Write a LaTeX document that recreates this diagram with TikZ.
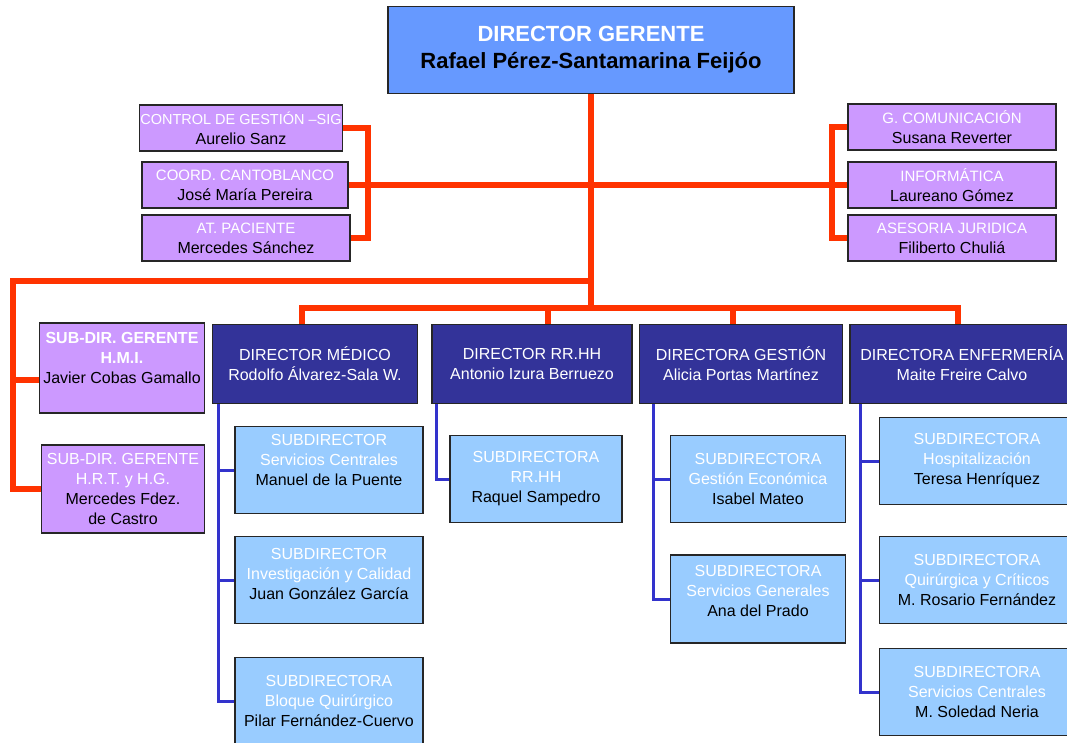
\documentclass[tikz,border=0pt]{standalone}
\usepackage{fontspec}
\setmainfont{Liberation Sans}
\usetikzlibrary{calc,backgrounds}

\definecolor{gerentebg}{RGB}{102,153,255}
\definecolor{staffbg}{RGB}{204,153,255}
\definecolor{dirbg}{RGB}{51,51,153}
\definecolor{subbg}{RGB}{153,204,255}
\definecolor{wirered}{RGB}{255,51,0}
\definecolor{wireblue}{RGB}{51,51,204}
\newcommand{\wtxt}[1]{\textcolor{white}{#1}}

\begin{document}
\begin{tikzpicture}[x=1pt, y=-1pt,
  box/.style={draw=black!85, line width=1.8pt, inner sep=0pt, align=center,
    font=\fontsize{16}{20}\selectfont},
  staffbox/.style={box, fill=staffbg, minimum width=206pt, minimum height=46pt,
    font=\fontsize{16}{20}\selectfont},
  dirbox/.style={box, fill=dirbg, text=white, minimum height=79pt},
  subbox/.style={box, fill=subbg, minimum height=87pt}, 
  redwire/.style={draw=wirered, line width=6pt, line cap=rect},
  bluewire/.style={draw=wireblue, line width=3pt, line cap=rect}]
  \useasboundingbox (0,0) rectangle (1067,742);

  % direccion gerencia
  \node[box, fill=gerentebg, minimum width=406pt, minimum height=87pt,
    font=\bfseries\fontsize{22}{27}\selectfont] (gerente) at (591,50)
    {\wtxt{DIRECTOR GERENTE}\\Rafael Pérez-Santamarina Feijóo};

  % staff
  \node[staffbox, minimum width=203pt] (control) at (241,128)
    {\wtxt{\fontsize{14.5}{20}\selectfont CONTROL DE GESTIÓN --SIG}\\Aurelio Sanz};
  \node[staffbox] (coord)    at (245,185) {\wtxt{\fontsize{15}{20}\selectfont COORD. CANTOBLANCO}\\José María Pereira};
  \node[staffbox, minimum width=208pt] (paciente) at (246,238) {\wtxt{\fontsize{15}{20}\selectfont AT. PACIENTE}\\Mercedes Sánchez};
  \node[staffbox, minimum width=208pt] (comunicacion) at (952,127) {\wtxt{\fontsize{15}{20}\selectfont G. COMUNICACIÓN}\\Susana Reverter};
  \node[staffbox, minimum width=208pt] (informatica)  at (952,185) {\wtxt{\fontsize{15}{20}\selectfont INFORMÁTICA}\\Laureano Gómez};
  \node[staffbox, minimum width=208pt] (juridica)     at (952,238) {\wtxt{\fontsize{15}{20}\selectfont ASESORIA JURIDICA}\\Filiberto Chuliá};

  % subdirecciones gerencia
  \node[box, fill=staffbg, minimum width=165pt, minimum height=90pt] (hmi) at (122,368)
    {\wtxt{\textbf{SUB-DIR. GERENTE}}\\\wtxt{\textbf{H.M.I.}}\\Javier Cobas Gamallo\\ \mbox{}};
  \node[box, fill=staffbg, minimum width=163pt, minimum height=88pt] (hrt) at (123,489)
    {\wtxt{SUB-DIR. GERENTE}\\\wtxt{H.R.T. y H.G.}\\Mercedes Fdez.\\de Castro};

  % direcciones
  \node[dirbox, minimum width=205pt] (medico)     at (315,364) {DIRECTOR MÉDICO\\Rodolfo Álvarez-Sala W.};
  \node[dirbox, minimum width=200pt] (rrhh)       at (532,364) {DIRECTOR RR.HH\\Antonio Izura Berruezo};
  \node[dirbox, minimum width=203pt] (gestion)    at (741,364) {DIRECTORA GESTIÓN\\Alicia Portas Martínez};
  \node[dirbox, minimum width=224pt] (enfermeria) at (962,364) {DIRECTORA ENFERMERÍA\\Maite Freire Calvo};

  % subdirecciones
  \node[subbox, minimum width=188pt] (sm1) at (329,470)
    {\wtxt{SUBDIRECTOR}\\\wtxt{Servicios Centrales}\\Manuel de la Puente\\ \mbox{}};
  \node[subbox, minimum width=188pt] (sm2) at (329,580)
    {\wtxt{SUBDIRECTOR}\\\wtxt{Investigación y Calidad}\\Juan González García\\[-8pt]\mbox{}};
  \node[subbox, minimum width=188pt] (sm3) at (329,701)
    {\wtxt{SUBDIRECTORA}\\\wtxt{Bloque Quirúrgico}\\Pilar Fernández-Cuervo};
  \node[subbox, minimum width=172pt] (srr) at (536,479)
    {\wtxt{SUBDIRECTORA}\\\wtxt{RR.HH}\\Raquel Sampedro};
  \node[subbox, minimum width=175pt] (sge) at (758,479)
    {\wtxt{SUBDIRECTORA}\\\wtxt{Gestión Económica}\\Isabel Mateo};
  \node[subbox, minimum width=175pt, minimum height=88pt] (ssg) at (758,599)
    {\wtxt{SUBDIRECTORA}\\\wtxt{Servicios Generales}\\Ana del Prado\\[-4pt]\mbox{}};
  \node[subbox, minimum width=195pt] (se1) at (977,461)
    {\wtxt{SUBDIRECTORA}\\\wtxt{Hospitalización}\\Teresa Henríquez};
  \node[subbox, minimum width=195pt] (se2) at (977,580)
    {\wtxt{SUBDIRECTORA}\\\wtxt{Quirúrgica y Críticos}\\M. Rosario Fernández};
  \node[subbox, minimum width=195pt] (se3) at (977,692)
    {\wtxt{SUBDIRECTORA}\\\wtxt{Servicios Centrales}\\M. Soledad Neria};

  \coordinate (lbrack)  at (368,185);
  \coordinate (rbrack)  at (832,185);
  \coordinate (lefthub) at (591,281);
  \coordinate (lcol)    at (13,281);
  \coordinate (hub)     at (591,308);
  \coordinate (dmedico)     at (302,308);
  \coordinate (drrhh)       at (548,308);
  \coordinate (dgestion)    at (733,308);
  \coordinate (denfermeria) at (958,308);
  \coordinate (hmiin) at ([yshift=-12pt]hmi.west);
  \coordinate (vmedico)     at ([xshift=7pt]medico.south west);
  \coordinate (vrrhh)       at ([xshift=5pt]rrhh.south west);
  \coordinate (vgestion)    at ([xshift=15pt]gestion.south west);
  \coordinate (venfermeria) at ([xshift=11pt]enfermeria.south west);

  \begin{scope}[on background layer]
    \draw[redwire] (gerente.south) -- (hub);
    \draw[redwire] (coord.east) -- (informatica.west);
    \draw[redwire] (control.east) -| (lbrack) |- (paciente.east);
    \draw[redwire] (comunicacion.west) -| (rbrack) |- (juridica.west);
    \draw[redwire] (lefthub) -- (lcol) |- (hrt.west);
    \draw[redwire] (lcol |- hmiin) -- (hmiin);
    \draw[redwire] (dmedico) -- (denfermeria);
    \foreach \n in {medico,rrhh,gestion,enfermeria}
      \draw[redwire] (d\n) -- (d\n |- \n.north);

    \draw[bluewire] (vmedico) |- (sm3.west);
    \draw[bluewire] (vmedico |- sm1.west) -- (sm1.west);
    \draw[bluewire] (vmedico |- sm2.west) -- (sm2.west);
    \draw[bluewire] (vrrhh) |- (srr.west);
    \draw[bluewire] (vgestion) |- (ssg.west);
    \draw[bluewire] (vgestion |- sge.west) -- (sge.west);
    \draw[bluewire] (venfermeria) |- (se3.west);
    \draw[bluewire] (venfermeria |- se1.west) -- (se1.west);
    \draw[bluewire] (venfermeria |- se2.west) -- (se2.west);
  \end{scope}
\end{tikzpicture}
\end{document}
